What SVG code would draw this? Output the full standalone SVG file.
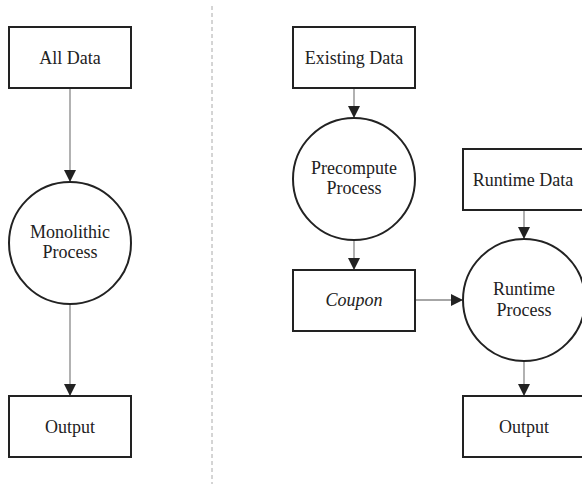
<svg xmlns="http://www.w3.org/2000/svg" width="582" height="486" viewBox="0 0 582 486" font-family="Liberation Serif, serif">
<style>
.box{fill:#fff;stroke:#222;stroke-width:2}
.proc{fill:#fff;stroke:#222;stroke-width:2}
.lbl{font-size:18px;fill:#222;text-anchor:middle}
.it{font-style:italic}
.edge{stroke:#888;stroke-width:1.3;fill:none;marker-end:url(#ah)}
.sep{stroke:#aaa;stroke-width:1;stroke-dasharray:4 3}
</style>
<defs>
<marker id="ah" markerWidth="12" markerHeight="13" refX="12" refY="6" orient="auto" markerUnits="userSpaceOnUse">
<path d="M0,0 L12,6 L0,12 Z" fill="#222"/>
</marker>
</defs>
<rect width="582" height="486" fill="#fff"/>
<line class="sep" x1="212" y1="6" x2="212" y2="484"/>
<g id="connectors">
<line class="edge" x1="70" y1="88" x2="70" y2="182"/>
<line class="edge" x1="70" y1="304" x2="70" y2="396"/>
<line class="edge" x1="354" y1="88" x2="354" y2="118"/>
<line class="edge" x1="354" y1="240" x2="354" y2="270"/>
<line class="edge" x1="524" y1="210" x2="524" y2="239"/>
<line class="edge" x1="415" y1="300" x2="463" y2="300"/>
<line class="edge" x1="524" y1="361" x2="524" y2="396"/>
</g>
<g id="all-data"><rect class="box" x="9" y="27" width="122" height="61"/><text class="lbl" x="70" y="64">All Data</text></g>
<g id="monolithic"><circle class="proc" cx="70" cy="243" r="61"/><text class="lbl" x="70" y="238">Monolithic</text><text class="lbl" x="70" y="258">Process</text></g>
<g id="output-left"><rect class="box" x="9" y="396" width="122" height="61"/><text class="lbl" x="70" y="433">Output</text></g>
<g id="existing-data"><rect class="box" x="293" y="27" width="122" height="61"/><text class="lbl" x="354" y="64">Existing Data</text></g>
<g id="precompute"><circle class="proc" cx="354" cy="179" r="61"/><text class="lbl" x="354" y="174">Precompute</text><text class="lbl" x="354" y="194">Process</text></g>
<g id="coupon"><rect class="box" x="293" y="270" width="122" height="61"/><text class="lbl it" x="354" y="306">Coupon</text></g>
<g id="runtime-data"><rect class="box" x="463" y="149" width="122" height="61"/><text class="lbl" x="523" y="186">Runtime Data</text></g>
<g id="runtime-process"><circle class="proc" cx="524" cy="300" r="61"/><text class="lbl" x="524" y="295">Runtime</text><text class="lbl" x="524" y="316">Process</text></g>
<g id="output-right"><rect class="box" x="463" y="396" width="122" height="61"/><text class="lbl" x="524" y="433">Output</text></g>
</svg>
